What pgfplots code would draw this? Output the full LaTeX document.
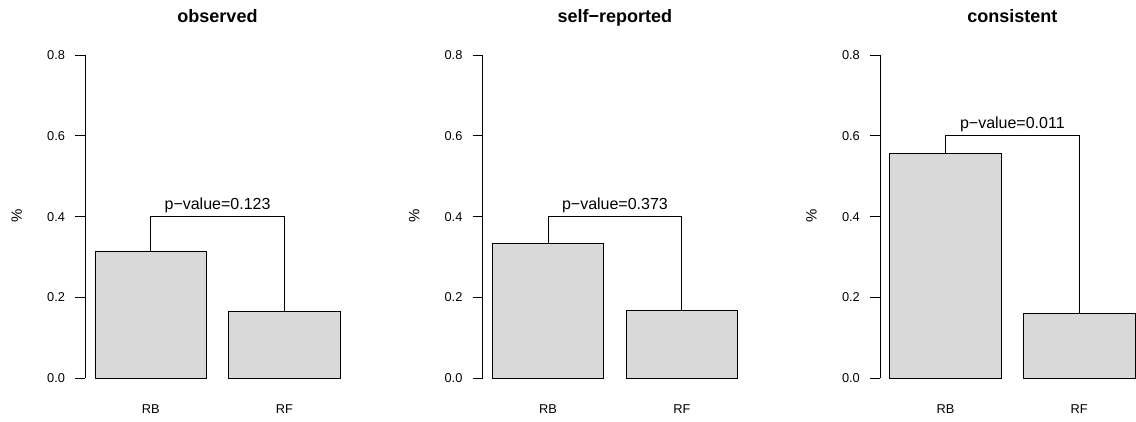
\documentclass[border=0pt]{standalone}
\usepackage{pgfplots}
\pgfplotsset{compat=1.18}
\usepackage{fontspec}
\setmainfont{Liberation Sans}
\definecolor{gray85}{HTML}{D9D9D9}
\pgfplotsset{rplot/.style={
  scale only axis, width=264.7pt, height=323.3pt, anchor=south west,
  xmin=0.112, xmax=2.488, ymin=0, ymax=0.8,
  axis y line=left, axis x line=none,
  y axis line style={-, line width=0.8pt, black},
  xtick=\empty,
  ytick={0,0.2,0.4,0.6,0.8},
  yticklabel style={/pgf/number format/fixed, /pgf/number format/precision=1, /pgf/number format/fixed zerofill, inner sep=0pt, anchor=east, xshift=-10pt},
  tick align=outside, major tick length=10pt,
  major y tick style={line width=0.8pt, black},
  ticklabel style={font=\fontsize{12.8}{15}\selectfont},
  /pgf/number format/assume math mode=true,
  clip=false,
}}
\tikzset{lab/.style={font=\fontsize{12.8}{15}\selectfont, anchor=base, yshift=-35pt},
  pv/.style={font=\fontsize{16}{19}\selectfont, anchor=base, yshift=7pt},
  br/.style={black, line width=0.8pt},
  bars/.style={ybar, bar width=1, fill=gray85, draw=black, line width=0.8pt}}
\begin{document}
\begin{tikzpicture}
\useasboundingbox (0pt,0pt) rectangle (1136pt,422pt);
% panel 1
\begin{axis}[rplot, at={(85.2pt,43.7pt)}]
\addplot[bars] coordinates {(0.7,0.315) (1.9,0.166)};
\addplot[br] coordinates {(0.7,0.315) (0.7,0.4) (1.9,0.4) (1.9,0.166)};
\node[pv] at (axis cs:1.3,0.4) {p−value=0.123};
\node[lab] at (axis cs:0.7,0) {RB};
\node[lab] at (axis cs:1.9,0) {RF};
\end{axis}
% panel 2
\begin{axis}[rplot, at={(482.6pt,43.7pt)}]
\addplot[bars] coordinates {(0.7,0.333) (1.9,0.167)};
\addplot[br] coordinates {(0.7,0.333) (0.7,0.4) (1.9,0.4) (1.9,0.167)};
\node[pv] at (axis cs:1.3,0.4) {p−value=0.373};
\node[lab] at (axis cs:0.7,0) {RB};
\node[lab] at (axis cs:1.9,0) {RF};
\end{axis}
% panel 3
\begin{axis}[rplot, at={(880pt,43.7pt)}]
\addplot[bars] coordinates {(0.7,0.556) (1.9,0.160)};
\addplot[br] coordinates {(0.7,0.556) (0.7,0.6) (1.9,0.6) (1.9,0.160)};
\node[pv] at (axis cs:1.3,0.6) {p−value=0.011};
\node[lab] at (axis cs:0.7,0) {RB};
\node[lab] at (axis cs:1.9,0) {RF};
\end{axis}
% titles and y labels
\foreach \cx/\t in {217.5/observed, 614.9/self−reported, 1012.4/consistent}
  \node[font=\fontsize{18}{21}\selectfont\bfseries, anchor=base] at (\cx pt,399.3pt) {\t};
\foreach \lx in {16.7, 414.1, 811.5}
  \node[font=\fontsize{15}{18}\selectfont, rotate=90] at (\lx pt,206.5pt) {\%};
\end{tikzpicture}
\end{document}
